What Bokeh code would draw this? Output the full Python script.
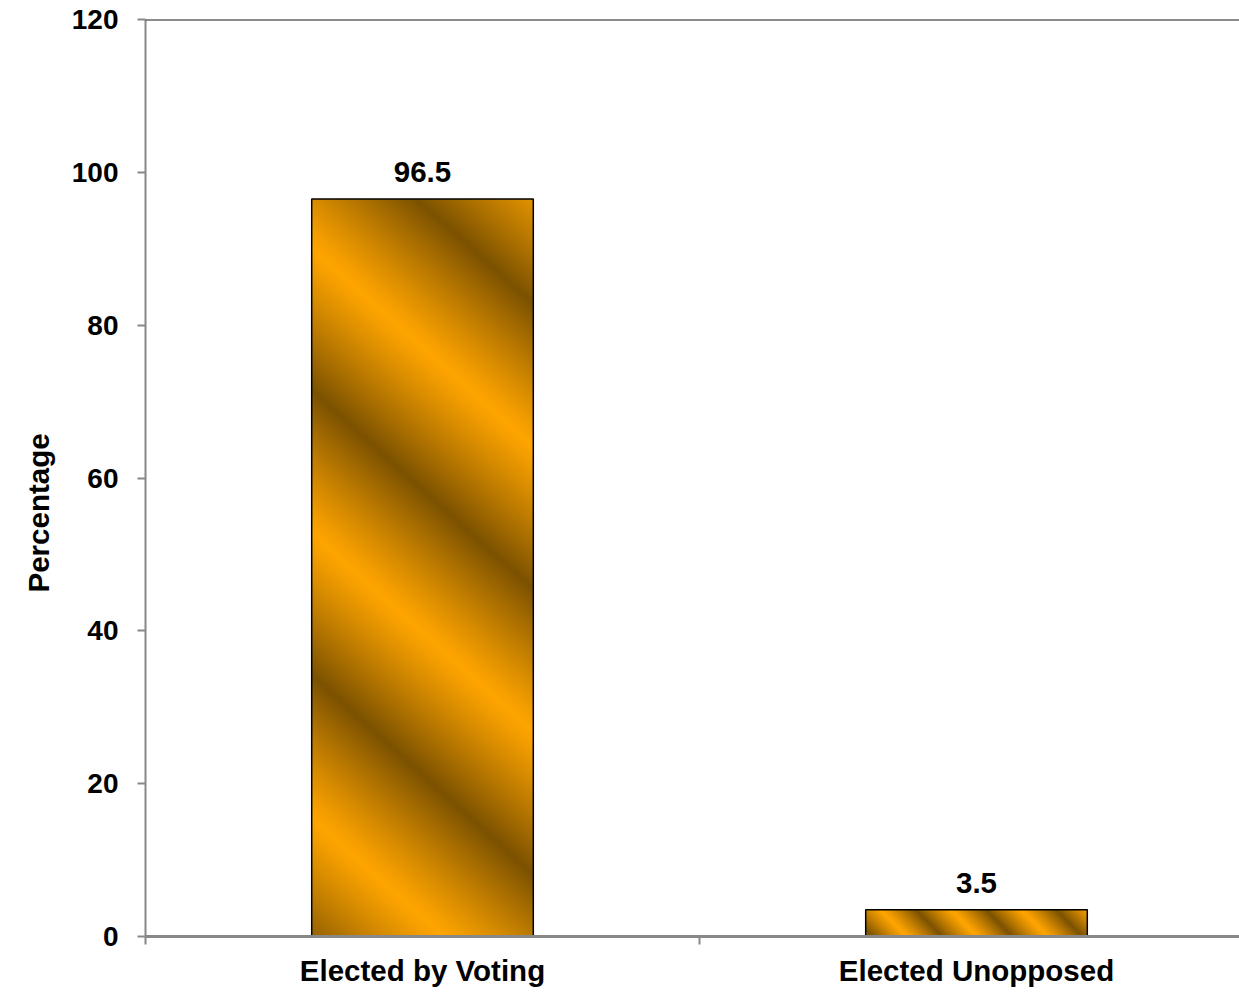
import numpy as np
from bokeh.plotting import figure
from bokeh.models import Range1d, FixedTicker, ColumnDataSource, LabelSet, Span, Title
from bokeh.core.properties import value
from bokeh.embed import file_html
from bokeh.resources import INLINE

# ---- data ----
categories = ["Elected by Voting", "Elected Unopposed"]
values = [96.5, 3.5]
y_ticks = [0, 20, 40, 60, 80, 100, 120]
y_label = "Percentage"

# ---- layout (px) ----
W, H = 1239, 990
FRAME_L, FRAME_T, FRAME_B = 145, 19, 936
CAT_PX = 554                      # width of one category slot
BAR_W = 0.4                       # bar width in category units
Y_MAX = 120

FONT = "Liberation Sans"
TICK_FS = "28px"
TEXT_FS = "29.5px"

# ---- gradient texture style per bar: (slope, vertical period px, dark offset px) ----
stripe_style = [(0.9, 285.0, 191.0), (1.0, 70.0, 21.0)]
BRIGHT = np.array([255, 165, 0], dtype=float)
DARK = np.array([124, 82, 0], dtype=float)

px_per_unit = (FRAME_B - FRAME_T) / Y_MAX


def texture(val, style):
    slope, period, y0 = style
    w = int(round(BAR_W * CAT_PX))
    h = max(1, int(round(val * px_per_unit)))
    yy, xx = np.mgrid[0:h, 0:w].astype(float)
    ph = (yy - slope * xx - y0) / period
    frac = ph - np.floor(ph)
    tri = np.abs(frac - 0.5) * 2.0          # 1 at dark line, 0 at bright line
    t = tri ** 1.15
    rgb = BRIGHT[None, None, :] * (1 - t[..., None]) + DARK[None, None, :] * t[..., None]
    img = np.empty((h, w), dtype=np.uint32)
    v = img.view(dtype=np.uint8).reshape((h, w, 4))
    v[..., 0] = rgb[..., 0].astype(np.uint8)
    v[..., 1] = rgb[..., 1].astype(np.uint8)
    v[..., 2] = rgb[..., 2].astype(np.uint8)
    v[..., 3] = 255
    return np.flipud(img).copy()


xs = [i + 0.5 for i in range(len(categories))]
src = ColumnDataSource(dict(x=xs, top=values, label=[f"{v:.1f}" for v in values]))
img_src = ColumnDataSource(dict(
    image=[texture(v, s) for v, s in zip(values, stripe_style)],
    x=[x - BAR_W / 2 for x in xs], y=[0] * len(values),
    dw=[BAR_W] * len(values), dh=values))

p = figure(width=W, height=H,
           x_range=Range1d(0, (W - FRAME_L) / CAT_PX), y_range=Range1d(0, Y_MAX),
           output_backend="svg", toolbar_location=None,
           min_border_left=FRAME_L, min_border_right=0,
           min_border_top=FRAME_T, min_border_bottom=H - FRAME_B)
p.outline_line_color = None
p.grid.visible = False
p.background_fill_color = "white"
p.border_fill_color = "white"

# gradient fill
p.image_rgba(image="image", x="x", y="y", dw="dw", dh="dh", source=img_src)
# outline
p.vbar(x="x", top="top", bottom=0, width=BAR_W, source=src,
       fill_alpha=0, line_color="black", line_width=1.5)

labels = LabelSet(x="x", y="top", text="label", source=src,
                  text_align="center", text_baseline="alphabetic", y_offset=17,
                  text_font=value(FONT), text_font_size=TEXT_FS, text_font_style="bold",
                  text_color="black")
p.add_layout(labels)

# top border line
p.add_layout(Span(location=Y_MAX, dimension="width", line_color="#1a1a1a", line_width=2))

# y axis
ya = p.yaxis[0]
ya.ticker = FixedTicker(ticks=y_ticks)
ya.axis_line_color = "#888888"
ya.axis_line_width = 2
ya.major_tick_line_color = "#888888"
ya.major_tick_line_width = 2
ya.major_tick_in = 0
ya.major_tick_out = 8
ya.minor_tick_line_color = None
ya.major_label_standoff = 19
ya.major_label_text_font = FONT
ya.major_label_text_font_size = TICK_FS
ya.major_label_text_font_style = "bold"
ya.major_label_text_color = "black"

# y axis title (left side title, placed as in the reference)
p.add_layout(Title(text=y_label, align="left", offset=344, standoff=28,
                   text_font=FONT, text_font_size=TEXT_FS,
                   text_font_style="bold", text_color="black"), "left")

# x axis
xa = p.xaxis[0]
xa.ticker = FixedTicker(ticks=xs, minor_ticks=list(range(len(categories) + 1)))
xa.major_label_overrides = {x: c for x, c in zip(xs, categories)}
xa.axis_line_color = "#888888"
xa.axis_line_width = 3
xa.major_tick_line_color = None
xa.major_tick_in = 0
xa.major_tick_out = 0
xa.minor_tick_line_color = "#888888"
xa.minor_tick_line_width = 2
xa.minor_tick_in = 0
xa.minor_tick_out = 8
xa.major_label_standoff = 9
xa.major_label_text_font = FONT
xa.major_label_text_font_size = TEXT_FS
xa.major_label_text_font_style = "bold"
xa.major_label_text_color = "black"

open("out.html", "w").write(file_html(p, INLINE))
